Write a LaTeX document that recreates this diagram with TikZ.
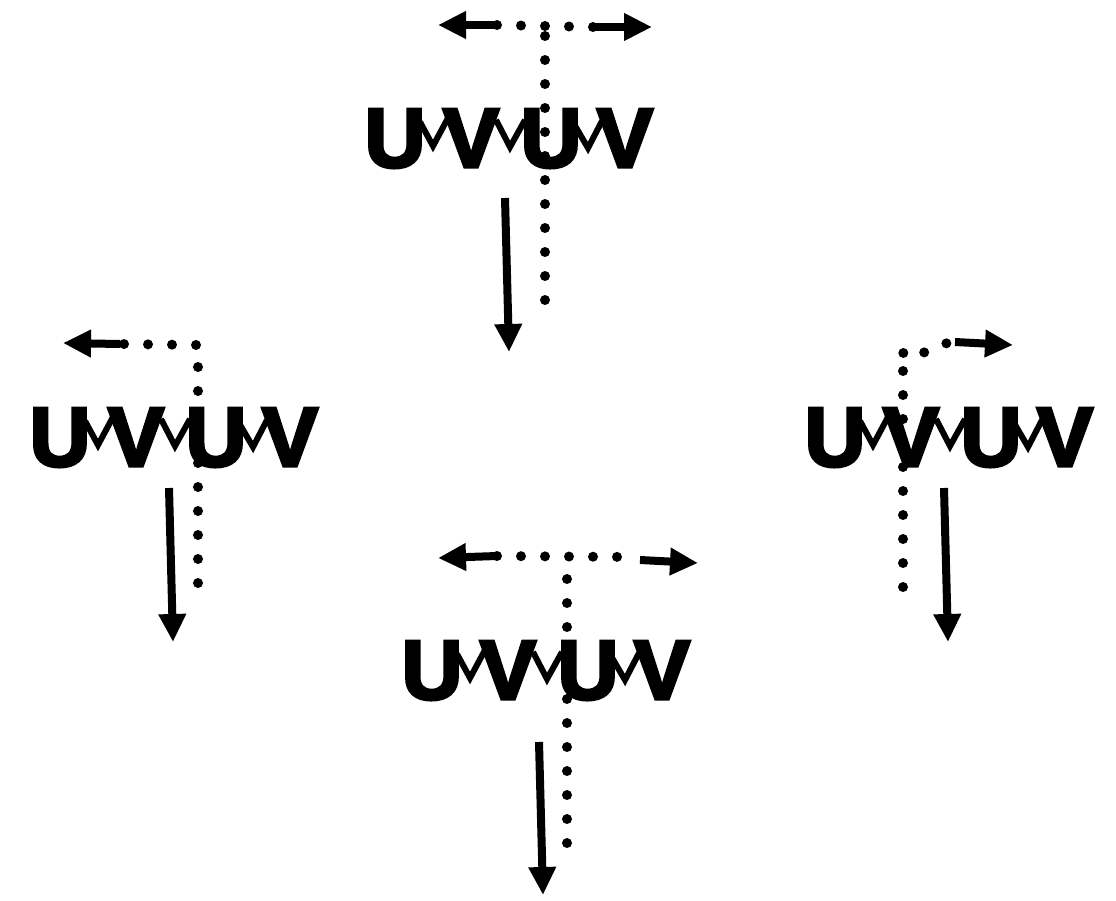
\documentclass[tikz,border=0pt]{standalone}
\usepackage{fontspec}
\newfontfamily\heavyfont{Liberation Sans}[FakeBold=4]
\usetikzlibrary{arrows.meta}
\tikzset{
  ltr/.style={inner sep=0pt, anchor=base, font=\heavyfont\bfseries\fontsize{84}{84}\selectfont},
  zig/.style={line width=6pt, line join=miter},
  dots/.style={line width=10pt, line cap=round, dash pattern=on 0pt off 24pt},
  arr/.style={line width=8pt, -{Triangle[length=28pt,width=26pt]}},
}
\begin{document}
\begin{tikzpicture}[x=1pt,y=-1pt]
\useasboundingbox (0,0) rectangle (1116,900);
\foreach \g/\x/\y in {t/370/108, l/35/407, r/810/407, b/407/640}{
  \begin{scope}[shift={(\x,\y)}]
    \node[ltr] (\g U1) at (25,59) {U};
    \node[ltr] (\g V1) at (101,59) {V};
    \node[ltr] (\g U2) at (181,59) {U};
    \node[ltr] (\g V2) at (255,59) {V};
    \draw[zig] (50,14) -- (63,38) -- (78,10);
    \draw[zig] (126,12) -- (140,39) -- (155,12);
    \draw[zig] (204,16) -- (218,40) -- (232,13);
  \end{scope}
}
% top group
\coordinate (tL0) at (497,25); \coordinate (tL1) at (438,25);
\coordinate (tR0) at (593,27); \coordinate (tR1) at (652,27);
\coordinate (tC) at (545,30); \coordinate (tV) at (545,300);
\draw[dots] (tL0) -- (tR0);
\draw[dots] (tV) -- (tC);
\draw[arr] (tL0) -- (tL1);
\draw[arr] (tR0) -- (tR1);
\coordinate (tD0) at (505,198); \coordinate (tD1) at (509,352);
\draw[arr] (tD0) -- (tD1);
% left group
\coordinate (lL0) at (120,344); \coordinate (lL1) at (63,343);
\coordinate (lC) at (198,345); \coordinate (lV) at (198,583);
\draw[dots] (lV) -- (lC) -- (lL0);
\draw[arr] (lL0) -- (lL1);
\coordinate (lD0) at (169,488); \coordinate (lD1) at (173,642);
\draw[arr] (lD0) -- (lD1);
% right group
\coordinate (rV) at (903,587); \coordinate (rC) at (903,350);
\coordinate (rR0) at (955,342); \coordinate (rR1) at (1013,345);
\draw[dots] (rV) -- (rC) to[out=-90,in=180] (rR0);
\draw[arr] (rR0) -- (rR1);
\coordinate (rD0) at (944,488); \coordinate (rD1) at (948,642);
\draw[arr] (rD0) -- (rD1);
% bottom group
\coordinate (bL0) at (497,556); \coordinate (bL1) at (438,558);
\coordinate (bR0) at (640,560); \coordinate (bR1) at (698,563);
\coordinate (bC) at (567,560); \coordinate (bV) at (567,843);
\draw[dots] (bL0) -- (633,557);
\draw[dots] (bV) -- (bC);
\draw[arr] (bL0) -- (bL1);
\draw[arr] (bR0) -- (bR1);
\coordinate (bD0) at (539,742); \coordinate (bD1) at (543,895);
\draw[arr] (bD0) -- (bD1);
\end{tikzpicture}
\end{document}
